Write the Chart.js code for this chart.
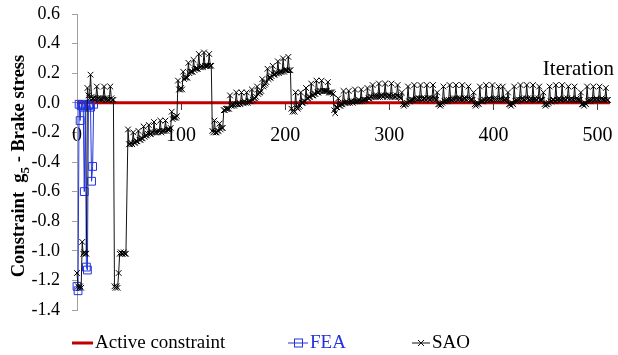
<!DOCTYPE html>
<html>
<head>
<meta charset="utf-8">
<script src="https://cdn.jsdelivr.net/npm/chart.js@4.4.0/dist/chart.umd.min.js"></script>
<style>
  html, body { margin: 0; padding: 0; background: #fff; }
  #wrap { width: 618px; height: 355px; }
</style>
</head>
<body>
<div id="wrap"><canvas id="chartCanvas" width="618" height="355"></canvas></div>
<script>
  const xTicks = [0, 100, 200, 300, 400, 500];
  const yRange = [-1.4, 0.6];

  // active constraint: g5 = 0 over the whole run
  const constraintIter = [0, 512];
  const constraintValue = [0, 0];

  const feaIter = [0, 1, 2, 3, 4, 5, 6, 7, 8, 9, 10, 11, 12, 13, 14, 15, 16];
  const feaValue = [-1.24, -1.27, -0.01, -0.12, -0.02, -0.01, -0.03, -0.60, -0.02, -1.11, -1.13, -0.02, -0.01, -0.03, -0.53, -0.43, -0.01];

  // SAO history, one value per iteration, split in pieces (first iteration of each piece below)
  const saoPieceStart = [0, 49, 130, 206, 256];

  const saoStart = [
    -1.15, -1.24, -1.25, -1.24, -1.25,
    -0.94, -1.02, -1.01, -1.02, -1.02,
    0.10, 0.05, 0.03,
    0.19, 0.04, 0.03, 0.03, 0.02, 0.03,
    0.11, 0.03, 0.03, 0.02, 0.03, 0.02, 0.03,
    0.11, 0.03, 0.02, 0.03, 0.02, 0.02,
    0.11, 0.03, 0.02, 0.02,
    -1.24, -1.25, -1.24, -1.25,
    -1.15, -1.02, -1.01, -1.02, -1.02, -1.01, -1.02, -1.02
  ];

  const saoRise1 = [
    -0.18, -0.28, -0.28, -0.27, -0.28,
    -0.20, -0.27, -0.27, -0.26, -0.26,
    -0.19, -0.25, -0.25, -0.24, -0.24,
    -0.16, -0.23, -0.22, -0.22, -0.21,
    -0.15, -0.21, -0.21, -0.20, -0.20,
    -0.13, -0.20, -0.20, -0.19, -0.20, -0.19,
    -0.12, -0.20, -0.19, -0.19, -0.19,
    -0.12, -0.19, -0.18, -0.18, -0.18, -0.17,
    -0.06, -0.11, -0.10, -0.10, -0.10, -0.09,
    0.15, 0.09, 0.09, 0.10, 0.09,
    0.21, 0.16, 0.17, 0.17, 0.17,
    0.27, 0.20, 0.21, 0.21, 0.21,
    0.29, 0.22, 0.23, 0.23, 0.23,
    0.33, 0.24, 0.24, 0.25, 0.24,
    0.34, 0.25, 0.25, 0.25, 0.25,
    0.33, 0.25, 0.25
  ];

  const saoRise2 = [
    -0.19, -0.20,
    -0.12, -0.20, -0.20, -0.19, -0.19,
    -0.14, -0.18, -0.17, -0.17,
    -0.05, -0.05, -0.04, -0.04, -0.04, -0.04,
    0.05, -0.02, -0.02, -0.01, -0.02, -0.01,
    0.07, -0.01, -0.01, 0.00, -0.01,
    0.07, 0.00, 0.00, 0.01, 0.00,
    0.07, 0.00, 0.01, 0.01, 0.01,
    0.09, 0.02, 0.03, 0.03, 0.04,
    0.11, 0.06, 0.07, 0.07, 0.08,
    0.16, 0.11, 0.12, 0.13, 0.14,
    0.23, 0.16, 0.17, 0.17, 0.18,
    0.25, 0.19, 0.19, 0.20, 0.20,
    0.28, 0.20, 0.21, 0.21, 0.21,
    0.30, 0.21, 0.22, 0.22, 0.22,
    0.31, 0.22, 0.22
  ];

  const saoSettle = [
    -0.04, -0.06, -0.05, -0.06,
    0.07, -0.03, -0.04, -0.03, -0.02,
    0.07, 0.00, 0.00, 0.01, 0.01,
    0.10, 0.03, 0.03, 0.04, 0.04,
    0.13, 0.05, 0.05, 0.06, 0.06,
    0.15, 0.07, 0.07, 0.08, 0.08,
    0.15, 0.08, 0.08, 0.08, 0.08, 0.08,
    0.14, 0.07, 0.07, 0.07, 0.07, 0.06,
    -0.05, -0.07, -0.03, -0.03,
    0.03, -0.02, -0.02, -0.01, -0.01
  ];

  const saoTail = [
    0.08, 0.00, 0.00, 0.01, 0.00,
    0.08, 0.00, 0.01, 0.01, 0.00, 0.01,
    0.09, 0.01, 0.01, 0.01, 0.02, 0.01,
    0.09, 0.01, 0.02, 0.02, 0.02, 0.02,
    0.10, 0.03, 0.03, 0.04, 0.04,
    0.12, 0.04, 0.05, 0.04, 0.05, 0.04,
    0.13, 0.04, 0.05, 0.05, 0.04, 0.05,
    0.13, 0.05, 0.04, 0.05, 0.05, 0.04,
    0.13, 0.04, 0.05, 0.04, 0.04, 0.05,
    0.12, 0.04, 0.04, 0.03,
    0.07, -0.01, -0.02, -0.01, -0.01, 0.00,
    0.11, 0.01, 0.01, 0.02, 0.02, 0.02,
    0.12, 0.02, 0.03, 0.02, 0.03, 0.03,
    0.12, 0.03, 0.02, 0.03, 0.03, 0.02,
    0.12, 0.03, 0.03, 0.02, 0.03, 0.03,
    0.12, 0.03, 0.03, 0.02,
    0.07, -0.01, -0.01, -0.02, -0.01, 0.00,
    0.11, 0.01, 0.01, 0.02, 0.01, 0.02,
    0.12, 0.02, 0.02, 0.03, 0.02, 0.03,
    0.12, 0.03, 0.02, 0.03, 0.03, 0.02,
    0.12, 0.02, 0.03, 0.03, 0.02, 0.03,
    0.11, 0.03, 0.02, 0.02, 0.02,
    0.07, -0.01, -0.02, -0.01, 0.00, -0.01,
    0.11, 0.01, 0.01, 0.01, 0.02, 0.02,
    0.12, 0.02, 0.02, 0.03, 0.02, 0.02,
    0.12, 0.02, 0.03, 0.02, 0.03, 0.02,
    0.11, 0.02, 0.03, 0.02,
    0.11, 0.02, 0.02, 0.03, 0.02,
    0.07, -0.01, -0.01, -0.02, 0.00, -0.01,
    0.11, 0.01, 0.02, 0.01, 0.02, 0.02,
    0.12, 0.02, 0.03, 0.02, 0.02, 0.03,
    0.12, 0.03, 0.02, 0.02, 0.03, 0.02,
    0.12, 0.02, 0.03, 0.02, 0.02, 0.03,
    0.11, 0.02, 0.02, 0.02,
    0.07, -0.01, -0.02, -0.01, -0.01, 0.00,
    0.11, 0.01, 0.01, 0.02, 0.02, 0.01,
    0.12, 0.02, 0.02, 0.03, 0.02, 0.02,
    0.12, 0.02, 0.03, 0.02, 0.02, 0.03,
    0.11, 0.02, 0.02, 0.03, 0.02, 0.02,
    0.11, 0.02, 0.03, 0.02, 0.02, 0.02,
    0.07, -0.01, -0.01, -0.02, 0.00, -0.01,
    0.11, 0.01, 0.02, 0.01, 0.02, 0.02,
    0.11, 0.02, 0.02, 0.03, 0.02, 0.02,
    0.11, 0.02, 0.03, 0.02, 0.02, 0.02,
    0.10, 0.02, 0.02
  ];

  const serif = "'Liberation Serif', 'Times New Roman', serif";
  const red = '#c00000';
  const blue = '#2233dd';
  const black = '#111111';

  const saoPieces = [saoStart, saoRise1, saoRise2, saoSettle, saoTail];
  const saoPoints = saoPieces.flatMap((piece, k) =>
    piece.map((v, i) => ({ x: saoPieceStart[k] + i, y: v })));

  Chart.defaults.font.family = serif;
  Chart.defaults.color = '#000';

  // text the chart needs outside the axes: y title with subscript, "Iteration", legend
  const extrasPlugin = {
    id: 'extras',
    afterDraw(chart) {
      const ctx = chart.ctx;
      ctx.save();
      ctx.fillStyle = '#000';

      ctx.save();
      ctx.translate(24, 166);
      ctx.rotate(-Math.PI / 2);
      ctx.textAlign = 'left';
      ctx.textBaseline = 'alphabetic';
      const big = 'bold 18.5px ' + serif;
      const small = 'bold 13px ' + serif;
      const p1 = 'Constraint  g', p2 = '5', p3 = ' - Brake stress';
      ctx.font = big;
      const w1 = ctx.measureText(p1).width, w3 = ctx.measureText(p3).width;
      ctx.font = small;
      const w2 = ctx.measureText(p2).width;
      let x = -(w1 + w2 + w3) / 2;
      ctx.font = big; ctx.fillText(p1, x, 0); x += w1;
      ctx.font = small; ctx.fillText(p2, x, 5); x += w2;
      ctx.font = big; ctx.fillText(p3, x, 0);
      ctx.restore();

      ctx.font = '21px ' + serif;
      ctx.textAlign = 'right';
      ctx.textBaseline = 'alphabetic';
      ctx.fillText('Iteration', 614, 75);

      // legend
      const ly = 343;
      ctx.font = '19px ' + serif;
      ctx.textAlign = 'left';
      ctx.textBaseline = 'middle';

      ctx.strokeStyle = red; ctx.lineWidth = 3;
      ctx.beginPath(); ctx.moveTo(72, ly); ctx.lineTo(93, ly); ctx.stroke();
      ctx.fillStyle = '#000';
      ctx.fillText('Active constraint', 95, ly);

      ctx.strokeStyle = blue; ctx.lineWidth = 1;
      ctx.beginPath(); ctx.moveTo(288, ly); ctx.lineTo(308, ly); ctx.stroke();
      ctx.strokeRect(294.5, ly - 4, 8, 8);
      ctx.fillStyle = blue;
      ctx.fillText('FEA', 310, ly);

      ctx.strokeStyle = black; ctx.lineWidth = 1;
      ctx.beginPath(); ctx.moveTo(412, ly); ctx.lineTo(430, ly); ctx.stroke();
      ctx.beginPath();
      ctx.moveTo(418, ly - 3); ctx.lineTo(424, ly + 3);
      ctx.moveTo(418, ly + 3); ctx.lineTo(424, ly - 3);
      ctx.stroke();
      ctx.fillStyle = '#000';
      ctx.fillText('SAO', 432, ly);

      ctx.restore();
    }
  };

  const ctx = document.getElementById('chartCanvas').getContext('2d');
  const chart = new Chart(ctx, {
    type: 'line',
    data: {
      datasets: [
        {
          label: 'Active constraint',
          data: constraintIter.map((x, i) => ({ x, y: constraintValue[i] })),
          borderColor: red,
          borderWidth: 3,
          pointRadius: 0,
          order: 2
        },
        {
          label: 'FEA',
          data: feaIter.map((x, i) => ({ x, y: feaValue[i] })),
          borderColor: blue,
          borderWidth: 1,
          pointStyle: 'rect',
          pointRadius: 5.5,
          pointBorderColor: blue,
          pointBackgroundColor: 'rgba(0,0,0,0)',
          pointBorderWidth: 1,
          clip: false,
          order: 1
        },
        {
          label: 'SAO',
          data: saoPoints,
          borderColor: black,
          borderWidth: 1,
          pointStyle: 'crossRot',
          pointRadius: 4,
          pointBorderColor: '#000',
          pointBorderWidth: 1,
          clip: false,
          order: 0
        }
      ]
    },
    options: {
      responsive: false,
      animation: false,
      layout: { padding: { left: 0, right: 8, top: 14, bottom: 45 } },
      plugins: {
        legend: { display: false },
        tooltip: { enabled: false }
      },
      scales: {
        x: {
          type: 'linear',
          position: { y: 0 },
          min: 0,
          max: 512,
          afterBuildTicks: s => { s.ticks = s.ticks.filter(t => xTicks.includes(t.value)); },
          // the axis sits inside the plot, so it should not take room from it
          afterFit: s => { s.height = 0; s.paddingTop = 0; s.paddingBottom = 0; s.paddingLeft = 0; s.paddingRight = 0; },
          ticks: { stepSize: 100, includeBounds: false, autoSkip: false, padding: 14, maxRotation: 0, color: '#000', font: { size: 20 } },
          grid: { drawOnChartArea: false, tickLength: 7, color: '#404040' },
          border: { color: '#a0a0a0' }
        },
        y: {
          min: yRange[0],
          max: yRange[1],
          afterFit: s => { s.width = 77; s.paddingTop = 0; s.paddingBottom = 0; },
          ticks: {
            stepSize: 0.2,
            padding: 12,
            color: '#000',
            font: { size: 18 },
            callback: v => Math.abs(v) < 1e-9 ? '0.0' : v.toFixed(1)
          },
          grid: { drawOnChartArea: false, tickLength: 5, color: '#a0a0a0' },
          border: { color: '#a0a0a0' }
        }
      }
    },
    plugins: [extrasPlugin]
  });
</script>
</body>
</html>
